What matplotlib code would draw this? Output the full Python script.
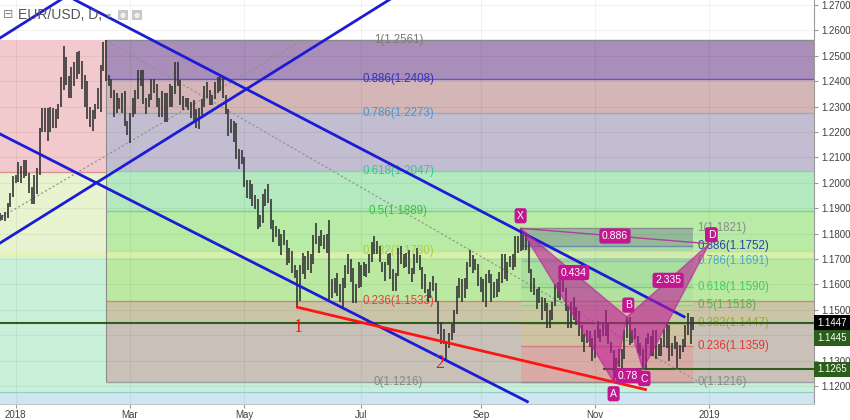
import numpy as np
import pandas as pd
import matplotlib
matplotlib.use('Agg')
import matplotlib.pyplot as plt
import matplotlib.transforms as mtransforms
from matplotlib.patches import Polygon, Rectangle

# daily (high, low) of EUR/USD, month by month
dec17 = [(1.1890, 1.1840), (1.1880, 1.1850), (1.1875, 1.1855), (1.1885, 1.1850), (1.1920, 1.1860),
         (1.1960, 1.1905), (1.2025, 1.1945)]
jan18 = [(1.2030, 1.2000), (1.2081, 1.2005), (1.2065, 1.2000), (1.2090, 1.2020), (1.2090, 1.2025),
         (1.2040, 1.1960), (1.1985, 1.1915), (1.2030, 1.1915), (1.2060, 1.1955), (1.2215, 1.2030),
         (1.2295, 1.2200), (1.2295, 1.2200), (1.2295, 1.2165), (1.2300, 1.2200), (1.2295, 1.2215),
         (1.2290, 1.2215), (1.2310, 1.2250), (1.2415, 1.2300), (1.2537, 1.2365), (1.2495, 1.2385),
         (1.2420, 1.2335), (1.2455, 1.2335), (1.2475, 1.2380)]
feb18 = [(1.2515, 1.2410), (1.2520, 1.2430), (1.2480, 1.2370), (1.2425, 1.2300), (1.2400, 1.2250),
         (1.2300, 1.2220), (1.2285, 1.2205), (1.2310, 1.2250), (1.2375, 1.2290), (1.2465, 1.2280),
         (1.2556, 1.2440), (1.2561, 1.2400), (1.2425, 1.2380), (1.2410, 1.2335), (1.2365, 1.2260),
         (1.2355, 1.2275), (1.2335, 1.2290), (1.2355, 1.2275), (1.2360, 1.2225), (1.2245, 1.2190)]
mar18 = [(1.2275, 1.2155), (1.2335, 1.2260), (1.2365, 1.2270), (1.2445, 1.2330), (1.2445, 1.2380),
         (1.2445, 1.2310), (1.2335, 1.2270), (1.2350, 1.2300), (1.2410, 1.2325), (1.2410, 1.2355),
         (1.2390, 1.2300), (1.2335, 1.2260), (1.2360, 1.2260), (1.2355, 1.2240), (1.2355, 1.2240),
         (1.2390, 1.2300), (1.2380, 1.2300), (1.2475, 1.2350), (1.2476, 1.2380), (1.2405, 1.2305),
         (1.2340, 1.2285), (1.2335, 1.2300)]
apr18 = [(1.2335, 1.2285), (1.2320, 1.2255), (1.2325, 1.2240), (1.2290, 1.2215), (1.2295, 1.2210),
         (1.2330, 1.2265), (1.2380, 1.2300), (1.2395, 1.2335), (1.2365, 1.2305), (1.2345, 1.2305),
         (1.2395, 1.2330), (1.2415, 1.2355), (1.2415, 1.2360), (1.2415, 1.2335), (1.2345, 1.2270),
         (1.2290, 1.2185), (1.2250, 1.2195), (1.2245, 1.2160), (1.2235, 1.2095), (1.2135, 1.2055),
         (1.2130, 1.2075)]
may18 = [(1.2100, 1.1985), (1.2010, 1.1940), (1.2010, 1.1935), (1.1995, 1.1910), (1.1950, 1.1895),
         (1.1935, 1.1820), (1.1875, 1.1825), (1.1955, 1.1840), (1.1975, 1.1910), (1.1995, 1.1920),
         (1.1935, 1.1820), (1.1855, 1.1765), (1.1830, 1.1785), (1.1820, 1.1750), (1.1800, 1.1715),
         (1.1815, 1.1755), (1.1775, 1.1675), (1.1745, 1.1685), (1.1730, 1.1645), (1.1675, 1.1625),
         (1.1655, 1.1510), (1.1675, 1.1535), (1.1725, 1.1640)]
jun18 = [(1.1710, 1.1620), (1.1730, 1.1655), (1.1720, 1.1645), (1.1795, 1.1680), (1.1840, 1.1760),
         (1.1790, 1.1725), (1.1815, 1.1750), (1.1795, 1.1740), (1.1800, 1.1725), (1.1852, 1.1540),
         (1.1620, 1.1545), (1.1625, 1.1565), (1.1645, 1.1555), (1.1600, 1.1530), (1.1625, 1.1508),
         (1.1675, 1.1585), (1.1720, 1.1640), (1.1700, 1.1610), (1.1665, 1.1525), (1.1600, 1.1525),
         (1.1690, 1.1585)]
jul18 = [(1.1675, 1.1590), (1.1690, 1.1635), (1.1680, 1.1630), (1.1720, 1.1645), (1.1765, 1.1690),
         (1.1790, 1.1720), (1.1770, 1.1720), (1.1750, 1.1690), (1.1690, 1.1650), (1.1690, 1.1615),
         (1.1720, 1.1675), (1.1725, 1.1620), (1.1660, 1.1575), (1.1645, 1.1575), (1.1745, 1.1635),
         (1.1750, 1.1680), (1.1720, 1.1665), (1.1725, 1.1670), (1.1735, 1.1640), (1.1665, 1.1610),
         (1.1720, 1.1640), (1.1745, 1.1685)]
aug18 = [(1.1715, 1.1655), (1.1670, 1.1580), (1.1640, 1.1565), (1.1580, 1.1530), (1.1610, 1.1545),
         (1.1635, 1.1575), (1.1605, 1.1530), (1.1535, 1.1405), (1.1450, 1.1365), (1.1425, 1.1365),
         (1.1375, 1.1301), (1.1410, 1.1350), (1.1445, 1.1380), (1.1500, 1.1410), (1.1595, 1.1485),
         (1.1625, 1.1545), (1.1620, 1.1530), (1.1625, 1.1545), (1.1690, 1.1580), (1.1735, 1.1670),
         (1.1715, 1.1645), (1.1700, 1.1655), (1.1680, 1.1595)]
sep18 = [(1.1630, 1.1570), (1.1620, 1.1530), (1.1640, 1.1510), (1.1655, 1.1605), (1.1640, 1.1530),
         (1.1610, 1.1545), (1.1620, 1.1550), (1.1650, 1.1570), (1.1720, 1.1605), (1.1720, 1.1620),
         (1.1690, 1.1615), (1.1710, 1.1670), (1.1720, 1.1655), (1.1790, 1.1670), (1.1790, 1.1725),
         (1.1821, 1.1730), (1.1795, 1.1735), (1.1795, 1.1735), (1.1770, 1.1645), (1.1660, 1.1570)]
oct18 = [(1.1625, 1.1560), (1.1580, 1.1505), (1.1590, 1.1525), (1.1550, 1.1460), (1.1545, 1.1495),
         (1.1525, 1.1430), (1.1500, 1.1430), (1.1530, 1.1460), (1.1600, 1.1515), (1.1610, 1.1545),
         (1.1620, 1.1540), (1.1620, 1.1570), (1.1585, 1.1495), (1.1515, 1.1430), (1.1530, 1.1430),
         (1.1550, 1.1460), (1.1510, 1.1440), (1.1495, 1.1395), (1.1440, 1.1375), (1.1405, 1.1335),
         (1.1420, 1.1370), (1.1415, 1.1355), (1.1390, 1.1300)]
nov18 = [(1.1420, 1.1310), (1.1455, 1.1390), (1.1425, 1.1375), (1.1445, 1.1395), (1.1500, 1.1395),
         (1.1445, 1.1365), (1.1375, 1.1330), (1.1340, 1.1216), (1.1310, 1.1230), (1.1345, 1.1275),
         (1.1345, 1.1265), (1.1420, 1.1305), (1.1470, 1.1390), (1.1472, 1.1360), (1.1420, 1.1370),
         (1.1430, 1.1385), (1.1395, 1.1330), (1.1370, 1.1320), (1.1345, 1.1265), (1.1390, 1.1268),
         (1.1410, 1.1365), (1.1395, 1.1320)]
dec18 = [(1.1420, 1.1320), (1.1420, 1.1305), (1.1365, 1.1320), (1.1390, 1.1320), (1.1425, 1.1355),
         (1.1445, 1.1350), (1.1440, 1.1300), (1.1370, 1.1320), (1.1395, 1.1345), (1.1375, 1.1267),
         (1.1360, 1.1305), (1.1385, 1.1335), (1.1440, 1.1355), (1.1486, 1.1400), (1.1470, 1.1365),
         (1.1470, 1.1420)]
first_bar = '2017-12-21'

# fibonacci retracements
fib_names = ['1', '0.886', '0.786', '0.618', '0.5', '0.382', '0.236', '0']
big_fib_prices = [1.2561, 1.2408, 1.2273, 1.2047, 1.1889, 1.1730, 1.1533, 1.1216]
small_fib_prices = [1.1821, 1.1752, 1.1691, 1.1590, 1.1518, 1.1447, 1.1359, 1.1216]
big_fib_start = '2018-02-16'
small_fib_span = ('2018-09-24', '2018-12-24')

# XABCD pattern
pat_names = ['X', 'A', 'B', 'C', 'D']
pat_dates = ['2018-09-24', '2018-11-12', '2018-11-19', '2018-11-27', '2019-01-01']
pat_prices = [1.1821, 1.1216, 1.1472, 1.1265, 1.1760]
pat_ratios = ['0.434', '0.78', '2.335', '0.886']

# trend lines: (date, price) -> (date, price)
blue_lines = [(('2018-01-15', 1.2787), ('2018-12-19', 1.1470)),
              (('2017-12-18', 1.2214), ('2018-09-27', 1.1136)),
              (('2017-12-18', 1.1736), ('2018-07-24', 1.2756)),
              (('2017-12-18', 1.2543), ('2018-01-31', 1.2754))]
red_line = (('2018-05-29', 1.1510), ('2018-11-28', 1.1186))
dotted_lines = [(('2018-02-16', 1.2561), ('2018-12-26', 1.1216)),
                (('2017-12-18', 1.1837), ('2018-05-31', 1.2561))]

last_price = 1.1447
last_price2 = 1.1445
support = 1.1265
support_from = '2018-11-06'

price_ticks = np.arange(1.12, 1.27001, 0.01)
hidden_tick = 1.14   # covered by the price badges
month_ticks = ['2018-01-01', '2018-03-01', '2018-05-01', '2018-07-01', '2018-09-01', '2018-11-01', '2019-01-01']
month_labels = ['2018', 'Mar', 'May', 'Jul', 'Sep', 'Nov', '2019']

# ---- position of a date in trading bars (0 = 1 Jan 2018)
cal = pd.bdate_range('2017-11-01', '2019-04-30')
zero = cal.searchsorted(pd.Timestamp('2018-01-01'))


def pos(d):
    return cal.searchsorted(pd.Timestamp(d)) - zero


SANS = ['Liberation Sans', 'DejaVu Sans']
plt.rcParams['font.family'] = SANS

fig = plt.figure(figsize=(8.5, 4.2), dpi=100)
ax = fig.add_axes([0, 16 / 420, 814 / 850, 404 / 420])
X0, X1 = -5.9, 300.4
Y0, Y1 = 1.11291, 1.27197
ax.set_xlim(X0, X1)
ax.set_ylim(Y0, Y1)
L, R = X0 - 20, X1 + 20


def band(x0, x1, y0, y1, color, z=0.5, alpha=1.0):
    ax.fill_between([x0, x1], y0, y1, color=color, lw=0, zorder=z, alpha=alpha)


xf = pos(big_fib_start)
# left zone
band(L, xf, 1.2043, 1.2561, '#f2c9cc')
band(L, xf, 1.1708, 1.2043, '#e7f4cf')
band(L, xf, 1.1177, 1.1708, '#c9f1d9')
band(L, R, Y0 - 0.01, 1.1177, '#cfe5f0')
# big fib
big_fill = ['#a88eb9', '#d4b6b7', '#c2bdd0', '#b4e8bf', '#b8eba6', '#bbe9a2', '#c9c0b8']
for i, c in enumerate(big_fill):
    band(xf, R, big_fib_prices[i + 1], big_fib_prices[i], c)
band(xf, R, 1.1447, 1.1533, '#cbc5a8', z=0.6)
band(xf, R, 1.1177, 1.1216, '#c8efdb')
# small fib
xs0, xs1 = pos(small_fib_span[0]), pos(small_fib_span[1])
small_fill = ['#93b89a', '#a8d7a6', '#a9e0a0', '#b2e2a0', '#c8caa0', '#cfc3a3', '#d9aba6']
for i, c in enumerate(small_fill):
    band(xs0, xs1, small_fib_prices[i + 1], small_fib_prices[i], c, z=0.8)
band(L, R, 1.1703, 1.1730, '#e4f3b4', z=1.2, alpha=0.7)

# grid
for t in price_ticks:
    ax.axhline(t, color='black', alpha=0.05, lw=0.8, zorder=1.3)
for m in month_ticks:
    ax.axvline(pos(m), color='black', alpha=0.05, lw=0.8, zorder=1.3)

# fib level lines and labels
big_line_c = ['#8c8c8c', '#5555ee', '#9aaab8', '#7fd6b0', '#6fdc6f', '#c5e38a', '#c98a7a', '#9aa0a0']
big_text_c = ['#7a7a7a', '#3535b8', '#3e9ad6', '#2ecc8f', '#36c436', '#a8d040', '#e04040', '#888888']
xl = pos('2018-07-20')
for p, n, lc, tc in zip(big_fib_prices, fib_names, big_line_c, big_text_c):
    ax.hlines(p, xf, R, color=lc, lw=1.0, zorder=1.5)
    ax.text(xl, p, f'{n}({p:.4f})', color=tc, fontsize=8.3, ha='center', va='center', zorder=1.8)
ax.hlines(1.2043, L, xf, color='#d89090', lw=1.0, zorder=1.5)
ax.hlines(1.1177, L, R, color='#93cbc6', lw=0.8, zorder=1.5)
ax.vlines(xf, 1.1216, 1.2561, color='#8c8c8c', lw=0.8, zorder=1.5)

small_line_c = ['#8c8c8c', '#6f8fa8', '#8fc0b8', '#6ed47a', '#a9c48a', '#7a8f40', '#d08080', '#8c8c8c']
small_text_c = ['#8a8a8a', '#2f3fa0', '#4aa8c8', '#3ccc70', '#55b545', '#a0a828', '#e03838', '#8a8a8a']
for p, n, lc, tc in zip(small_fib_prices, fib_names, small_line_c, small_text_c):
    ax.hlines(p, xs0, xs1, color=lc, lw=1.0, zorder=1.6)
    ax.text(xs1 + 1.5, p, f'{n}({p:.4f})', color=tc, fontsize=8.3, ha='left', va='center', zorder=1.8)

ax.axhline(last_price, color='#2f5e1e', lw=1.5, zorder=2.5)
ax.hlines(support, pos(support_from), R, color='#2f5e1e', lw=1.5, zorder=2.5)

# dotted fib trend lines
for (d0, p0), (d1, p1) in dotted_lines:
    ax.plot([pos(d0), pos(d1)], [p0, p1], color='#8e8e8e', lw=0.8, ls=(0, (2, 2)), zorder=2.6)

# price bars
hl = dec17 + jan18 + feb18 + mar18 + apr18 + may18 + jun18 + jul18 + aug18 + sep18 + oct18 + nov18 + dec18
bar_dates = pd.bdate_range(first_bar, periods=len(hl))
bx = np.array([pos(d) for d in bar_dates])
hi = np.array([h for h, l in hl])
lo = np.array([l for h, l in hl])
ax.vlines(bx, lo, hi, color='#363636', lw=1.2, zorder=3)

# trend lines
for (d0, p0), (d1, p1) in blue_lines:
    ax.plot([pos(d0), pos(d1)], [p0, p1], color='#1c1cd6', lw=2, zorder=4, solid_capstyle='butt')
(d0, p0), (d1, p1) = red_line
ax.plot([pos(d0), pos(d1)], [p0, p1], color='#ff1414', lw=2, zorder=4)
serif = ['Liberation Serif', 'DejaVu Serif']
ax.annotate('1', (pos('2018-05-29'), 1.1510), xytext=(0.7, -14.6), textcoords='offset points',
            ha='center', va='center', color='#e81818', fontsize=13, family=serif, zorder=6)
ax.annotate('2', (pos('2018-08-15'), 1.1301), xytext=(-5, -2.5), textcoords='offset points',
            ha='center', va='center', color='#e81818', fontsize=13, family=serif, zorder=6)

# XABCD pattern
px = [pos(d) for d in pat_dates]
pp = pat_prices
mag = '#c01a9a'
ax.add_patch(Polygon([(px[0], pp[0]), (px[1], pp[1]), (px[2], pp[2])], closed=True,
                     facecolor=mag, edgecolor=mag, alpha=0.6, lw=1, zorder=5))
ax.add_patch(Polygon([(px[2], pp[2]), (px[3], pp[3]), (px[4], pp[4])], closed=True,
                     facecolor=mag, edgecolor=mag, alpha=0.6, lw=1, zorder=5))
ax.plot([px[0], px[4]], [pp[0], pp[4]], color='#b0409a', lw=1, zorder=5)
ax.plot([px[1], px[3]], [pp[1], pp[3]], color='#b0409a', lw=1, zorder=5)

box = dict(boxstyle='round,pad=0.25,rounding_size=0.25', fc='#c2188f', ec='none')
pairs = [(0, 2), (1, 3), (2, 4), (0, 4)]
for (i, j), r in zip(pairs, pat_ratios):
    ax.text((px[i] + px[j]) / 2, (pp[i] + pp[j]) / 2, r, color='white', fontsize=7.5,
            ha='center', va='center', bbox=box, zorder=7)
offs = [(0, 9), (0, -8.5), (1, 8.5), (1, -6.5), (1.5, 6.5)]
for n, x, p, o in zip(pat_names, px, pp, offs):
    ax.annotate(n, (x, p), xytext=o, textcoords='offset points', color='white', fontsize=7.5,
                ha='center', va='center', bbox=box, zorder=7)

# axes styling
for s in ['top', 'left']:
    ax.spines[s].set_visible(False)
ax.spines['right'].set_color('#9a9a9a')
ax.spines['bottom'].set_color('#c8c8c8')
ax.yaxis.tick_right()
ax.set_yticks(price_ticks)
ax.set_yticklabels(['' if abs(t - hidden_tick) < 1e-6 else f'{t:.4f}' for t in price_ticks])
ax.tick_params(axis='y', labelsize=7, colors='#9a9a9a', labelcolor='#404040', length=3, pad=2)
ax.set_xticks([pos(m) for m in month_ticks])
ax.set_xticklabels(month_labels)
ax.tick_params(axis='x', labelsize=7, colors='#9a9a9a', labelcolor='#404040', length=3, pad=1)

# price badges on the scale
btr = mtransforms.blended_transform_factory(ax.transAxes, ax.transData)
ax.text(1.004, last_price, f'{last_price:.4f}', transform=btr, color='white', fontsize=7,
        ha='left', va='center', bbox=dict(boxstyle='square,pad=0.3', fc='#000000', ec='none'),
        clip_on=False, zorder=8)
ax.annotate(f'{last_price2:.4f}', (1.004, last_price2), xycoords=btr, xytext=(0, -10),
            textcoords='offset points', color='white', fontsize=7, ha='left', va='center',
            bbox=dict(boxstyle='square,pad=0.3', fc='#2b5e18', ec='none'), annotation_clip=False, zorder=8)
ax.text(1.004, support, f'{support:.4f}', transform=btr, color='white', fontsize=7,
        ha='left', va='center', bbox=dict(boxstyle='square,pad=0.3', fc='#2b5e18', ec='none'),
        clip_on=False, zorder=8)

# chart title
fig.text(8 / 850, 1 - 15 / 420, '⊟', family='DejaVu Sans', fontsize=9, color='#888888', ha='center', va='center')
fig.text(18 / 850, 1 - 15 / 420, 'EUR/USD, D,', fontsize=10, color='#555555', ha='left', va='center')
fig.text(109 / 850, 1 - 15 / 420, '▾', family='DejaVu Sans', fontsize=6, color='#aaaaaa', ha='center', va='center')
for xi in [118, 132]:
    fig.patches.append(Rectangle((xi / 850, 1 - 20 / 420), 10 / 850, 10 / 420, transform=fig.transFigure,
                                 facecolor='#c8c8c8', edgecolor='none'))
    fig.text((xi + 5) / 850, 1 - 15 / 420, '●', family='DejaVu Sans', fontsize=5, color='#f0f0f0',
             ha='center', va='center')

fig.savefig('out.png', dpi=100)
